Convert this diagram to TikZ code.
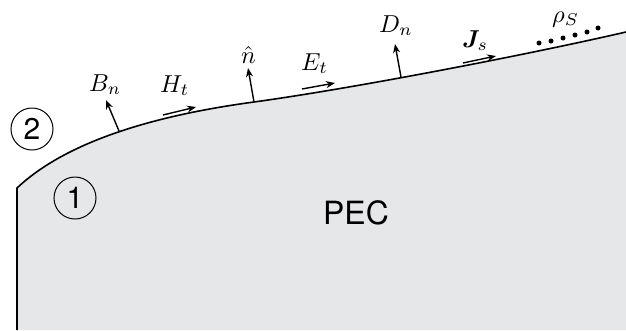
\RequirePackage{fix-cm}
\documentclass[tikz,border=0pt]{standalone}
\usepackage{fontspec}
\usepackage{bm}
\usetikzlibrary{arrows.meta}
\newfontfamily\hv{TeX Gyre Heros}
\definecolor{pecgray}{RGB}{230,231,233}
\newcommand{\lblmath}[1]{\scalebox{2.45}{$#1$}}
\begin{document}
\begin{tikzpicture}[x=1pt,y=-1pt,
  vec/.style={-{Stealth[length=9pt,width=7pt]}, line width=1.4pt},
  lbl/.style={anchor=base west, inner sep=0pt},
  region/.style={circle, draw, line width=1pt, minimum size=42pt, inner sep=0pt, font=\hv\fontsize{30}{32}\selectfont},
  dotm/.style={circle, fill, inner sep=0pt, minimum size=5pt}]
\useasboundingbox (0,0) rectangle (626,330);
\fill[pecgray] (17,330) -- (17,188) .. controls (70,138) and (165,114) .. (254,102)
   .. controls (354,88.2) and (526,55) .. (626,32) -- (626,330) -- cycle;
\draw[line width=1.6pt] (17,330) -- (17,188) .. controls (70,138) and (165,114) .. (254,102)
   .. controls (354,88.2) and (526,55) .. (626,32);
% vectors
\coordinate (bn0) at (119,131); \coordinate (bn1) at (106,100);
\coordinate (ht0) at (163,115); \coordinate (ht1) at (196,107);
\coordinate (nh0) at (254,102); \coordinate (nh1) at (248,68);
\coordinate (et0) at (302,89);  \coordinate (et1) at (335,83);
\coordinate (dn0) at (401,77);  \coordinate (dn1) at (395,44);
\coordinate (js0) at (463,63);  \coordinate (js1) at (496,56);
\draw[vec] (bn0) -- (bn1);
\draw[vec] (ht0) -- (ht1);
\draw[vec] (nh0) -- (nh1);
\draw[vec] (et0) -- (et1);
\draw[vec] (dn0) -- (dn1);
\draw[vec] (js0) -- (js1);
% labels
\node[lbl] (lBn) at (89,91) {\lblmath{B_n}};
\node[lbl] (lHt) at (160,92) {\lblmath{H_t}};
\node[lbl] (lnh) at (241,63) {\lblmath{\hat{n}}};
\node[lbl] (lEt) at (301,70) {\lblmath{E_t}};
\node[lbl] (lDn) at (379,32) {\lblmath{D_n}};
\node[lbl] (lJs) at (462,47) {\lblmath{\bm{J}_s}};
\node[lbl] (lrho) at (552,22) {\lblmath{\rho_S}};
% surface charge dots
\node[dotm] (d1) at (539,43) {};
\node[dotm] (d2) at (551,41) {};
\node[dotm] (d3) at (563,38) {};
\node[dotm] (d4) at (575,35) {};
\node[dotm] (d5) at (587,32) {};
\node[dotm] (d6) at (598,28) {};
% regions
\node[region] (r2) at (32,129) {2};
\node[region] (r1) at (75,198) {1};
\node[font=\hv\fontsize{32}{36}\selectfont, inner sep=0pt] (pec) at (356,213) {PEC};
\end{tikzpicture}
\end{document}
